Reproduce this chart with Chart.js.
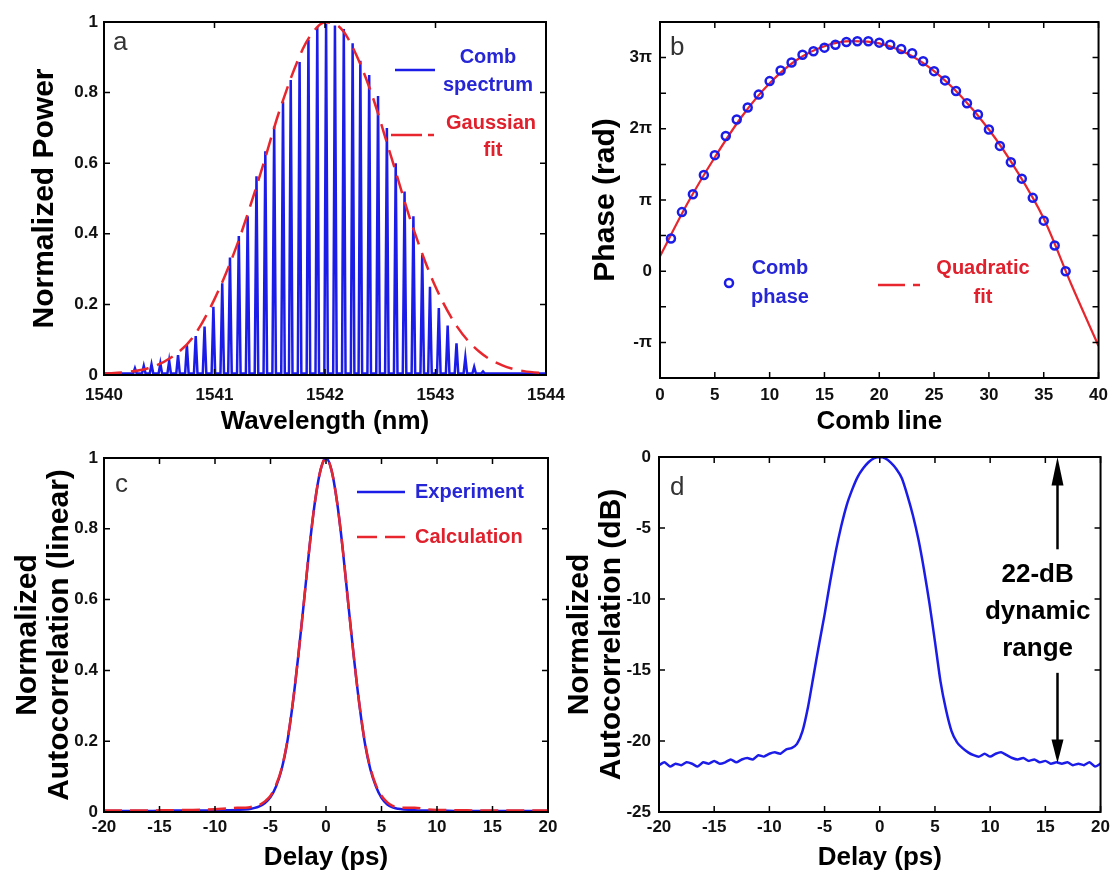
<!DOCTYPE html>
<html>
<head>
<meta charset="utf-8">
<script src="https://cdn.jsdelivr.net/npm/chart.js@4.4.0/dist/chart.umd.min.js"></script>
<style>
  html, body { margin: 0; padding: 0; background: #fff; }
  #wrap { position: relative; width: 1115px; height: 873px; overflow: hidden; }
  canvas { position: absolute; }
</style>
</head>
<body>
<div id="wrap">
  <canvas id="panelA" width="600" height="445" style="left:0;top:0"></canvas>
  <canvas id="panelB" width="558" height="445" style="left:557px;top:0"></canvas>
  <canvas id="panelC" width="600" height="443" style="left:0;top:430px"></canvas>
  <canvas id="panelD" width="558" height="443" style="left:557px;top:430px"></canvas>
</div>
<script>
// ---- a: comb spectrum + gaussian fit ----
const combWavelength = [1540.28, 1540.36, 1540.43, 1540.51, 1540.59, 1540.67, 1540.75, 1540.83, 1540.91, 1540.99,
  1541.07, 1541.14, 1541.22, 1541.30, 1541.38, 1541.46, 1541.54, 1541.62, 1541.69, 1541.77,
  1541.85, 1541.93, 1542.01, 1542.09, 1542.17, 1542.25, 1542.32, 1542.40, 1542.48, 1542.56,
  1542.64, 1542.72, 1542.80, 1542.88, 1542.95, 1543.03, 1543.11, 1543.19, 1543.27, 1543.35, 1543.43];
const combPower = [0.019, 0.026, 0.03, 0.033, 0.04, 0.056, 0.085, 0.11, 0.137, 0.193,
  0.26, 0.333, 0.394, 0.45, 0.563, 0.634, 0.704, 0.775, 0.836, 0.887,
  0.95, 0.986, 0.995, 0.99, 0.98, 0.94, 0.89, 0.85, 0.79, 0.70,
  0.60, 0.52, 0.45, 0.34, 0.25, 0.19, 0.14, 0.09, 0.05, 0.023, 0.01];
const gaussWavelength = [1540.0, 1540.2, 1540.4, 1540.6, 1540.8, 1541.0, 1541.2, 1541.4, 1541.6, 1541.8, 1541.9,
  1542.0, 1542.1, 1542.2, 1542.4, 1542.6, 1542.8, 1543.0, 1543.2, 1543.4, 1543.6, 1543.8, 1544.0];
const gaussPower = [0.004, 0.008, 0.019, 0.048, 0.105, 0.215, 0.365, 0.554, 0.76, 0.924, 0.975,
  0.999, 0.993, 0.958, 0.816, 0.617, 0.414, 0.25, 0.135, 0.065, 0.028, 0.011, 0.005];

// ---- b: comb phase (in units of pi) + quadratic fit ----
const combLine = [1, 2, 3, 4, 5, 6, 7, 8, 9, 10, 11, 12, 13, 14, 15, 16, 17, 18, 19, 20,
  21, 22, 23, 24, 25, 26, 27, 28, 29, 30, 31, 32, 33, 34, 35, 36, 37];
const combPhase = [0.46, 0.83, 1.08, 1.35, 1.63, 1.90, 2.13, 2.30, 2.48, 2.67, 2.82, 2.93, 3.04, 3.09, 3.14, 3.18, 3.22, 3.23, 3.23, 3.21,
  3.18, 3.12, 3.06, 2.95, 2.81, 2.68, 2.53, 2.36, 2.20, 1.99, 1.76, 1.53, 1.30, 1.03, 0.71, 0.36, 0.0];
const fitLine = [0, 2.5, 5, 7.5, 10, 12.5, 15, 17.5, 20, 22.5, 25, 27.5, 30, 32.5, 35, 37.5, 40];
const fitPhase = [0.21, 0.95, 1.6, 2.18, 2.64, 2.97, 3.16, 3.23, 3.20, 3.06, 2.81, 2.45, 1.99, 1.42, 0.74, -0.18, -1.05];

// ---- c: linear autocorrelation ----
const delayLin = [-20, -18, -16, -14, -12, -10, -9, -8, -7, -6.5, -6, -5.5, -5, -4.5, -4, -3.5, -3, -2.5, -2, -1.5, -1, -0.5,
  0, 0.5, 1, 1.5, 2, 2.5, 3, 3.5, 4, 4.5, 5, 5.5, 6, 6.5, 7, 8, 9, 10, 12, 14, 16, 18, 20];
const experimentLin = [0.003, 0.003, 0.003, 0.004, 0.004, 0.004, 0.005, 0.006, 0.008, 0.011, 0.016, 0.025, 0.042, 0.072, 0.12, 0.195, 0.305, 0.44, 0.59, 0.745, 0.875, 0.965,
  1.0, 0.965, 0.875, 0.745, 0.59, 0.44, 0.305, 0.195, 0.12, 0.072, 0.04, 0.022, 0.013, 0.009, 0.007, 0.005, 0.004, 0.004, 0.003, 0.003, 0.003, 0.003, 0.003];
const calculationLin = [0.004, 0.004, 0.004, 0.005, 0.006, 0.008, 0.010, 0.012, 0.013, 0.016, 0.02, 0.03, 0.046, 0.076, 0.123, 0.198, 0.307, 0.44, 0.59, 0.745, 0.875, 0.965,
  1.0, 0.965, 0.875, 0.745, 0.59, 0.44, 0.307, 0.198, 0.124, 0.076, 0.046, 0.028, 0.017, 0.013, 0.012, 0.012, 0.008, 0.006, 0.005, 0.004, 0.004, 0.004, 0.004];

// ---- d: autocorrelation in dB ----
const delayDb = [-20, -19.5, -19, -18.5, -18, -17.5, -17, -16.5, -16, -15.5, -15, -14.5, -14, -13.5, -13, -12.5, -12, -11.5, -11, -10.5,
  -10, -9.5, -9, -8.5, -8, -7.5, -7, -6.5, -6, -5.5, -5, -4.5, -4, -3.5, -3, -2.5, -2, -1.5, -1, -0.5,
  0, 0.5, 1, 1.5, 2, 2.5, 3, 3.5, 4, 4.5, 5, 5.5, 6, 6.5, 7, 7.5, 8, 8.5, 9, 9.5,
  10, 10.5, 11, 11.5, 12, 12.5, 13, 13.5, 14, 14.5, 15, 15.5, 16, 16.5, 17, 17.5, 18, 18.5, 19, 19.5, 20];
const experimentDb = [-21.7, -21.5, -21.8, -21.6, -21.7, -21.5, -21.6, -21.8, -21.5, -21.6, -21.4, -21.6, -21.5, -21.3, -21.5, -21.3, -21.2, -21.3, -21.0, -21.1,
  -20.9, -20.8, -20.9, -20.6, -20.5, -20.2, -19.3, -17.6, -15.4, -13.2, -11.1, -8.8, -6.7, -4.9, -3.4, -2.3, -1.4, -0.8, -0.35, -0.08,
  0, -0.1, -0.4, -0.85, -1.5, -2.7, -4.1, -5.8, -7.9, -10.3, -13.0, -15.8, -17.8, -19.3, -20.1, -20.5, -20.8, -21.0, -21.1, -20.9,
  -21.1, -20.9, -20.8, -21.0, -21.2, -21.3, -21.2, -21.4, -21.3, -21.5, -21.4, -21.6, -21.5, -21.6, -21.5, -21.7, -21.6, -21.7, -21.5, -21.8, -21.6];
const rangeLabel = ['22-dB', 'dynamic', 'range'];

const BLUE = '#1c1ce8';
const RED = '#e8262e';
const BLUE_TXT = '#2626d6';
const RED_TXT = '#e0202c';
const FONT = '"Liberation Sans", Arial, sans-serif';

function pts(xs, ys) {
  return xs.map((x, i) => ({ x: x, y: ys[i] }));
}

function seg(ctx, x1, y1, x2, y2, color, width) {
  ctx.strokeStyle = color;
  ctx.lineWidth = width;
  ctx.beginPath();
  ctx.moveTo(x1, y1);
  ctx.lineTo(x2, y2);
  ctx.stroke();
}

function txt(ctx, s, x, y, color, size, weight, align, base) {
  ctx.fillStyle = color;
  ctx.font = weight + ' ' + size + 'px ' + FONT;
  ctx.textAlign = align || 'center';
  ctx.textBaseline = base || 'middle';
  ctx.fillText(s, x, y);
}

// plain numbers, no thousands separator, "1" instead of "1.0"
function plain(v) {
  return String(Math.round(v * 100) / 100);
}

// box + inward tick marks like the original axes
const boxTicks = {
  id: 'boxTicks',
  afterDatasetsDraw(chart) {
    const { ctx, chartArea: a, scales } = chart;
    ctx.save();
    ctx.strokeStyle = '#000';
    ctx.lineWidth = 1.5;
    ctx.beginPath();
    scales.x.ticks.forEach(t => {
      const px = scales.x.getPixelForValue(t.value);
      ctx.moveTo(px, a.bottom); ctx.lineTo(px, a.bottom - 6);
      ctx.moveTo(px, a.top); ctx.lineTo(px, a.top + 6);
    });
    scales.y.ticks.forEach(t => {
      const py = scales.y.getPixelForValue(t.value);
      ctx.moveTo(a.left, py); ctx.lineTo(a.left + 6, py);
      ctx.moveTo(a.right, py); ctx.lineTo(a.right - 6, py);
    });
    ctx.stroke();
    ctx.lineWidth = 2;
    ctx.strokeRect(a.left, a.top, a.right - a.left, a.bottom - a.top);
    ctx.restore();
  }
};

function axis(o) {
  const vertical = o.position === 'left';
  return {
    type: 'linear', position: o.position, min: o.min, max: o.max,
    grid: { display: false, drawTicks: false },
    border: { display: false },
    ticks: {
      stepSize: o.step, padding: o.pad, autoSkip: false, maxRotation: 0, color: '#111',
      font: { family: FONT, size: 17, weight: 'bold' },
      callback: o.callback || plain
    },
    title: {
      display: true, text: o.title, color: '#000',
      padding: vertical ? { top: o.titlePad, bottom: 0 } : { top: 0, bottom: o.titlePad },
      font: { family: FONT, size: vertical ? 30 : 26, weight: 'bold', lineHeight: o.lineHeight || 1.2 }
    },
    afterFit: vertical ? s => { s.width = o.size; } : s => { s.height = o.size; }
  };
}

function makeChart(id, datasets, xAxis, yAxis, padding, extra) {
  return new Chart(document.getElementById(id), {
    type: 'line',
    data: { datasets: datasets },
    options: {
      responsive: false, animation: false, devicePixelRatio: 1,
      layout: { padding: padding },
      plugins: { legend: { display: false }, tooltip: { enabled: false } },
      elements: { point: { radius: 0 } },
      scales: { x: xAxis, y: yAxis }
    },
    plugins: [boxTicks, extra]
  });
}

// panel a
const combTrace = [{ x: 1540, y: 0.004 }];
combWavelength.forEach((w, i) => {
  combTrace.push({ x: w - 0.016, y: 0.004 }, { x: w, y: combPower[i] }, { x: w + 0.016, y: 0.004 });
});
combTrace.push({ x: 1544, y: 0.004 });

makeChart('panelA', [
  { data: pts(gaussWavelength, gaussPower), borderColor: RED, borderWidth: 2.5, borderDash: [18, 9], cubicInterpolationMode: 'monotone' },
  { data: combTrace, borderColor: BLUE, borderWidth: 2.5, tension: 0 }
],
  axis({ position: 'bottom', min: 1540, max: 1544, step: 1, pad: 10, title: 'Wavelength (nm)', titlePad: 8, size: 70 }),
  axis({ position: 'left', min: 0, max: 1, step: 0.2, pad: 6, title: 'Normalized Power', titlePad: 27, size: 104 }),
  { left: 0, top: 22, right: 54, bottom: 0 },
  {
    id: 'legendA',
    afterDraw(chart) {
      const { ctx, chartArea: a } = chart;
      const x0 = a.left, y0 = a.top;
      ctx.save();
      seg(ctx, x0 + 291, y0 + 48, x0 + 331, y0 + 48, BLUE, 2.5);
      txt(ctx, 'Comb', x0 + 384, y0 + 35, BLUE_TXT, 20, 'bold');
      txt(ctx, 'spectrum', x0 + 384, y0 + 63, BLUE_TXT, 20, 'bold');
      seg(ctx, x0 + 287, y0 + 113, x0 + 318, y0 + 113, RED, 2.5);
      seg(ctx, x0 + 324, y0 + 113, x0 + 330, y0 + 113, RED, 2.5);
      txt(ctx, 'Gaussian', x0 + 387, y0 + 101, RED_TXT, 20, 'bold');
      txt(ctx, 'fit', x0 + 389, y0 + 128, RED_TXT, 20, 'bold');
      txt(ctx, 'a', x0 + 9, y0 + 28, '#333', 26, 'normal', 'left', 'alphabetic');
      ctx.restore();
    }
  });

// panel b
function piLabel(v) {
  const n = Math.round(v);
  if (Math.abs(v - n) > 1e-6) return '';
  if (n === 0) return '0';
  if (n === 1) return 'π';
  if (n === -1) return '-π';
  return n + 'π';
}

makeChart('panelB', [
  { data: pts(combLine, combPhase), showLine: false, pointRadius: 4, pointBorderWidth: 2.5,
    pointBorderColor: BLUE, pointBackgroundColor: 'rgba(0,0,0,0)', borderColor: BLUE },
  { data: pts(fitLine, fitPhase), borderColor: RED, borderWidth: 2.2, cubicInterpolationMode: 'monotone' }
],
  axis({ position: 'bottom', min: 0, max: 40, step: 5, pad: 7, title: 'Comb line', titlePad: 8, size: 67 }),
  axis({ position: 'left', min: -1.5, max: 3.5, step: 0.5, pad: 8, title: 'Phase (rad)', titlePad: 31, size: 103, callback: piLabel }),
  { left: 0, top: 22, right: 13, bottom: 0 },
  {
    id: 'legendB',
    afterDraw(chart) {
      const { ctx, chartArea: a } = chart;
      const x0 = a.left, y0 = a.top;
      ctx.save();
      ctx.strokeStyle = BLUE;
      ctx.lineWidth = 2.5;
      ctx.beginPath();
      ctx.arc(x0 + 69, y0 + 261, 4, 0, Math.PI * 2);
      ctx.stroke();
      txt(ctx, 'Comb', x0 + 120, y0 + 246, BLUE_TXT, 20, 'bold');
      txt(ctx, 'phase', x0 + 120, y0 + 275, BLUE_TXT, 20, 'bold');
      seg(ctx, x0 + 218, y0 + 263, x0 + 245, y0 + 263, RED, 2.5);
      seg(ctx, x0 + 253, y0 + 263, x0 + 260, y0 + 263, RED, 2.5);
      txt(ctx, 'Quadratic', x0 + 323, y0 + 246, RED_TXT, 20, 'bold');
      txt(ctx, 'fit', x0 + 323, y0 + 275, RED_TXT, 20, 'bold');
      txt(ctx, 'b', x0 + 10, y0 + 33, '#333', 26, 'normal', 'left', 'alphabetic');
      ctx.restore();
    }
  });

// panel c
makeChart('panelC', [
  { data: pts(delayLin, calculationLin), borderColor: RED, borderWidth: 2.5, borderDash: [18, 8], cubicInterpolationMode: 'monotone' },
  { data: pts(delayLin, experimentLin), borderColor: BLUE, borderWidth: 2.5, cubicInterpolationMode: 'monotone' }
],
  axis({ position: 'bottom', min: -20, max: 20, step: 5, pad: 5, title: 'Delay (ps)', titlePad: 0, size: 61 }),
  axis({ position: 'left', min: 0, max: 1, step: 0.2, pad: 6, title: ['Normalized', 'Autocorrelation (linear)'],
    titlePad: 12, size: 104, lineHeight: 1.07 }),
  { left: 0, top: 28, right: 52, bottom: 0 },
  {
    id: 'legendC',
    afterDraw(chart) {
      const { ctx, chartArea: a } = chart;
      const x0 = a.left, y0 = a.top;
      ctx.save();
      seg(ctx, x0 + 253, y0 + 34, x0 + 301, y0 + 34, BLUE, 2.5);
      txt(ctx, 'Experiment', x0 + 311, y0 + 34, BLUE_TXT, 20, 'bold', 'left');
      seg(ctx, x0 + 253, y0 + 79, x0 + 273, y0 + 79, RED, 2.5);
      seg(ctx, x0 + 281, y0 + 79, x0 + 301, y0 + 79, RED, 2.5);
      txt(ctx, 'Calculation', x0 + 311, y0 + 79, RED_TXT, 20, 'bold', 'left');
      txt(ctx, 'c', x0 + 11, y0 + 34, '#333', 26, 'normal', 'left', 'alphabetic');
      ctx.restore();
    }
  });

// panel d
makeChart('panelD', [
  { data: pts(delayDb, experimentDb), borderColor: BLUE, borderWidth: 2.5, tension: 0.2 }
],
  axis({ position: 'bottom', min: -20, max: 20, step: 5, pad: 5, title: 'Delay (ps)', titlePad: 0, size: 61 }),
  axis({ position: 'left', min: -25, max: 0, step: 5, pad: 8, title: ['Normalized', 'Autocorrelation (dB)'],
    titlePad: 7, size: 102, lineHeight: 1.07 }),
  { left: 0, top: 27, right: 12, bottom: 0 },
  {
    id: 'rangeArrow',
    afterDraw(chart) {
      const { ctx, chartArea: a, scales } = chart;
      const X = scales.x, Y = scales.y;
      const ax = X.getPixelForValue(16.1);
      ctx.save();
      ctx.fillStyle = '#000';
      // upper half of the double arrow
      seg(ctx, ax, Y.getPixelForValue(-1.6), ax, Y.getPixelForValue(-6.5), '#000', 2.5);
      ctx.beginPath();
      ctx.moveTo(ax, Y.getPixelForValue(0));
      ctx.lineTo(ax - 6, Y.getPixelForValue(-2));
      ctx.lineTo(ax + 6, Y.getPixelForValue(-2));
      ctx.closePath();
      ctx.fill();
      // lower half
      seg(ctx, ax, Y.getPixelForValue(-15.2), ax, Y.getPixelForValue(-20.2), '#000', 2.5);
      ctx.beginPath();
      ctx.moveTo(ax, Y.getPixelForValue(-21.55));
      ctx.lineTo(ax - 6, Y.getPixelForValue(-19.9));
      ctx.lineTo(ax + 6, Y.getPixelForValue(-19.9));
      ctx.closePath();
      ctx.fill();
      const tx = X.getPixelForValue(14.3);
      [-8.3, -10.9, -13.5].forEach((v, i) => {
        txt(ctx, rangeLabel[i], tx, Y.getPixelForValue(v), '#000', 26, 'bold');
      });
      txt(ctx, 'd', a.left + 11, a.top + 38, '#333', 26, 'normal', 'left', 'alphabetic');
      ctx.restore();
    }
  });
</script>
</body>
</html>
